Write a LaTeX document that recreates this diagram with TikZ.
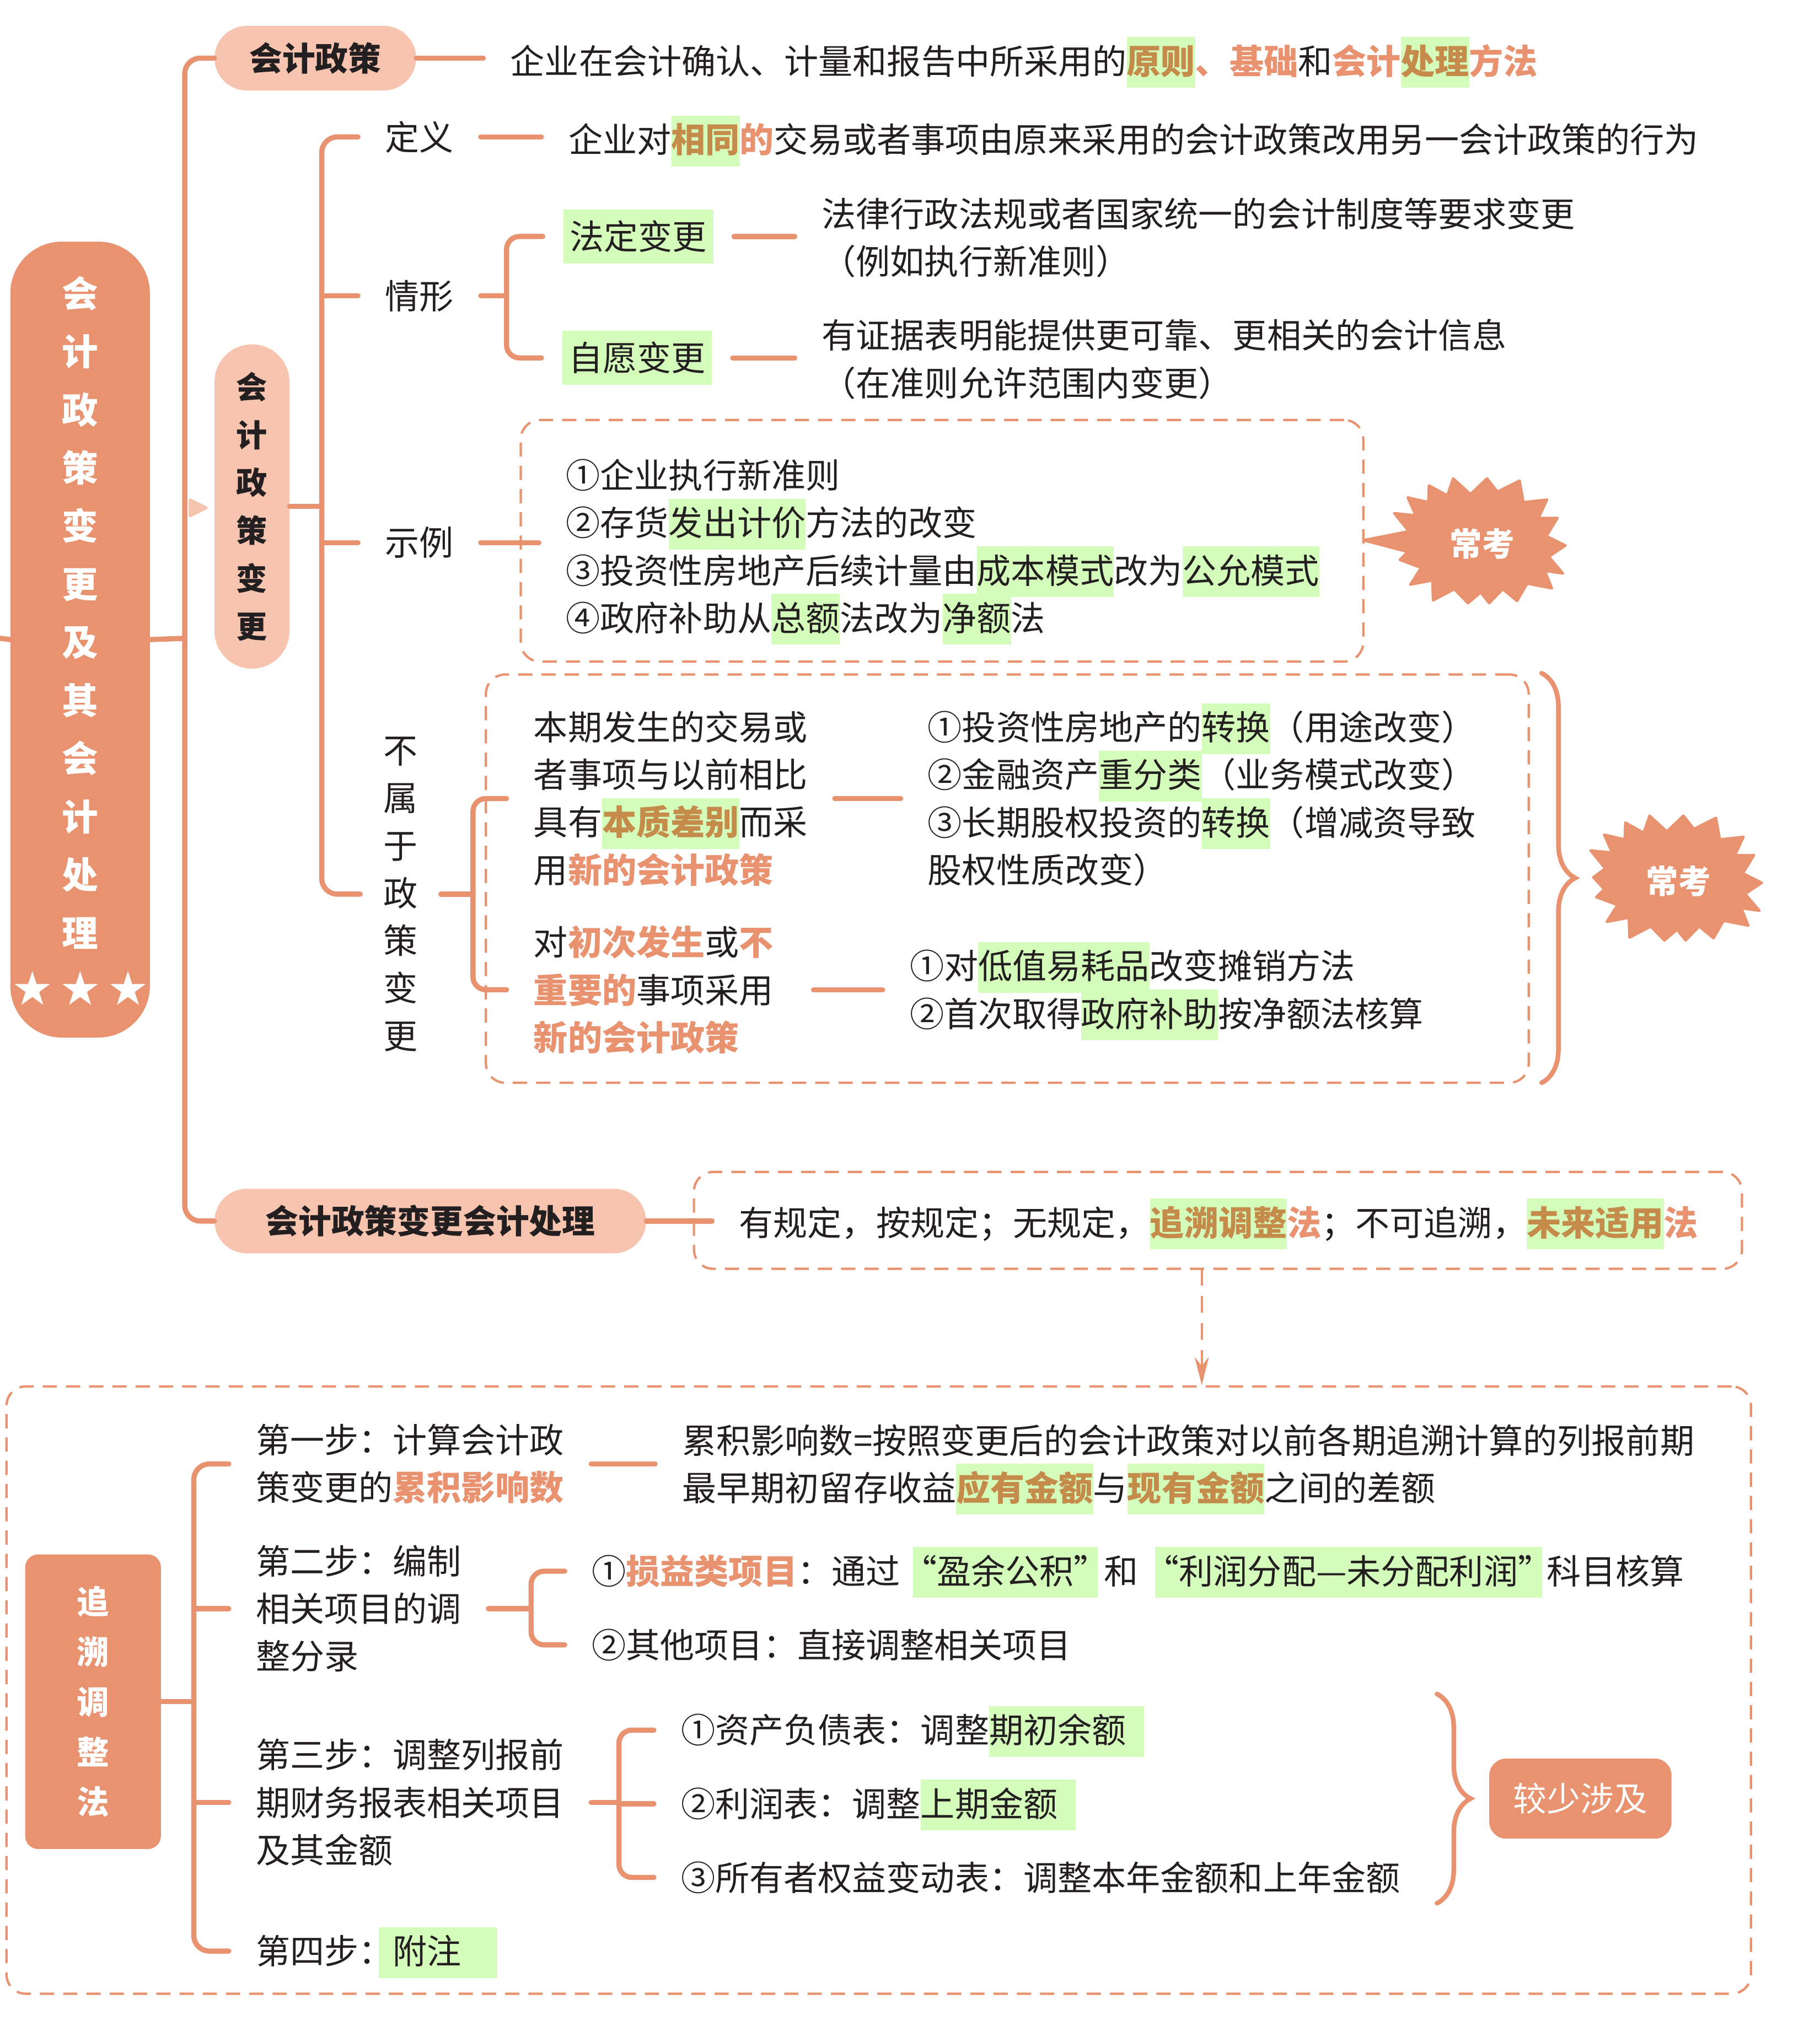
\documentclass[tikz,border=0pt]{standalone}
\usepackage{fontspec}
\setmainfont{Noto Sans CJK SC}
\usepackage{tikz}
\usetikzlibrary{arrows.meta,positioning,shapes.geometric,decorations.pathreplacing}
\definecolor{MapOrange}{HTML}{E9926F}
\definecolor{PaleOrange}{HTML}{F6C4AF}
\definecolor{MarkGreen}{HTML}{D4FCBB}
\definecolor{KeyBrown}{HTML}{C58B4A}
\definecolor{InkBlack}{HTML}{231F20}
\setlength{\fboxsep}{0pt}
\newcommand{\bodyfont}{\fontsize{26.5pt}{36.8pt}\selectfont}
\newcommand{\hilite}[1]{\smash{\colorbox{MarkGreen}{\rule[-0.4em]{0pt}{1.48em}#1}}}
\newcommand{\keyterm}[1]{\hilite{\textcolor{KeyBrown}{\bfseries #1}}}
\newcommand{\hotterm}[1]{\textcolor{MapOrange}{\bfseries #1}}
\newcommand{\hotburst}[2]{%
  \filldraw[MapOrange, line width=2pt, line join=round, shift={#1}]
    #2 -- (-56.8,-9.8) -- (-68.1,-23.8) -- (-51.5,-22.1) -- (-57.6,-36.0) -- (-41.7,-32.3)
    -- (-41.2,-45.3) -- (-27.0,-37.5) -- (-22.5,-50.7) -- (-9.1,-38.5) -- (3.7,-50.7)
    -- (11.8,-40.4) -- (28.9,-49.0) -- (31.9,-32.3) -- (50.2,-34.3) -- (43.6,-20.1)
    -- (58.3,-20.1) -- (49.7,-6.1) -- (64.4,1.2) -- (51.5,9.8) -- (62.5,22.8)
    -- (48.5,20.8) -- (53.9,34.3) -- (34.8,30.6) -- (27.0,44.1) -- (15.9,35.0)
    -- (5.4,45.8) -- (-1.2,37.5) -- (-11.0,45.8) -- (-21.6,35.0) -- (-38.0,43.6)
    -- (-38.5,28.2) -- (-55.6,31.4) -- (-47.3,18.4) -- (-63.7,12.3) -- (-57.6,6.1) -- cycle;}

\begin{document}
\begin{tikzpicture}[x=1pt, y=-1pt,
  branch/.style={draw=MapOrange, line width=4pt, line cap=round},
  dashbox/.style={draw=MapOrange, line width=1.8pt, dash pattern=on 11pt off 7pt, rounded corners=15pt, inner sep=0pt},
  pill/.style={fill=PaleOrange, rounded corners=25pt, inner sep=0pt, text=InkBlack, font=\bfseries\fontsize{25.5pt}{37pt}\selectfont},
  body/.style={inner sep=0pt, outer xsep=21pt, anchor=west, align=left, text=InkBlack, font=\bodyfont},
  vlabel/.style={inner sep=0pt, outer xsep=18pt, align=center, text=InkBlack, font=\bodyfont},
  vtitle/.style={inner sep=0pt, align=center, text=white},
  greenlbl/.style={fill=MarkGreen, inner sep=0pt, minimum width=116pt, minimum height=42pt, outer xsep=16pt, text=InkBlack, font=\bodyfont},
  bursttext/.style={text=white, font=\bfseries\fontsize{25pt}{30pt}\selectfont},
  bracebar/.style={draw=MapOrange, line width=3.6pt, line cap=round, decorate, decoration={brace, amplitude=26pt}}]
\useasboundingbox (0,0) rectangle (1408,1568);

% left title block
\node[fill=MapOrange, rounded corners=40pt, minimum width=108pt, minimum height=616pt, inner sep=0pt] (root) at (62,495) {};
\node[vtitle, font=\bfseries\fontsize{28pt}{45pt}\selectfont] (rootTitle) at (62,474) {会\\计\\政\\策\\变\\更\\及\\其\\会\\计\\处\\理};
\foreach \sx in {25,62,99}
  \node[star, star points=5, star point ratio=2.618, fill=white, minimum size=29pt, inner sep=0pt] (star\sx) at (\sx,766) {};

% first level
\coordinate (edgeL) at (0,494);
\coordinate (spineA) at (143,494);
\node[pill, minimum width=156pt, minimum height=50pt] (policy) at (244,45) {会计政策};
\node[pill, minimum width=58pt, minimum height=251pt, rounded corners=29pt, font=\bfseries\fontsize{24pt}{37pt}\selectfont, align=center] (changePill) at (195,392) {会\\计\\政\\策\\变\\更};
\node[pill, minimum width=334pt, minimum height=50pt] (handling) at (333,945) {会计政策变更会计处理};
\draw[branch, rounded corners=12pt] (policy.west) -| (spineA) |- (handling.west);
\draw[branch] (root.east) -- (spineA);
\draw[branch] (edgeL) -- (root.west);
\fill[PaleOrange, rounded corners=2pt] (146,385) -- (162,393) -- (146,401) -- cycle;

\node[body] (policyDef) at (374,47) {企业在会计确认、计量和报告中所采用的\keyterm{原则}\hotterm{、基础}和\hotterm{会计}\keyterm{处理}\hotterm{方法}};
\draw[branch] (policy.east) -- (policy.east -| policyDef.west);

% second level: policy change
\coordinate (spineB) at (249,400);
\node[body] (defLbl) at (277,106) {定义};
\node[body] (situLbl) at (277,229) {情形};
\node[body] (exLbl) at (277,420) {示例};
\node[vlabel] (notLbl) at (310,692) {不\\属\\于\\政\\策\\变\\更};
\draw[branch, rounded corners=12pt] (defLbl.west) -| (spineB) |- (notLbl.west);
\draw[branch] (situLbl.west) -- (situLbl.west -| spineB);
\draw[branch] (exLbl.west) -- (exLbl.west -| spineB);
\draw[branch] (changePill.east) -- (changePill.east -| spineB);

\node[body] (defText) at (419,108) {企业对\keyterm{相同}\hotterm{的}交易或者事项由原来采用的会计政策改用另一会计政策的行为};
\draw[branch] (defLbl.east) -- (defLbl.east -| defText.west);

% situations
\coordinate (situSpine) at (392,229);
\node[greenlbl] (legal) at (494,183) {法定变更};
\node[greenlbl] (volun) at (493,277) {自愿变更};
\draw[branch] (situLbl.east) -- (situSpine);
\draw[branch, rounded corners=10pt] (legal.west) -| (situSpine) |- (volun.west);
\node[body] (legalText) at (615,184) {法律行政法规或者国家统一的会计制度等要求变更\\（例如执行新准则）};
\node[body] (volunText) at (615,278) {有证据表明能提供更可靠、更相关的会计信息\\（在准则允许范围内变更）};
\draw[branch] (legal.east) -- (legal.east -| legalText.west);
\draw[branch] (volun.east) -- (volun.east -| volunText.west);

% examples
\node[dashbox, minimum width=652pt, minimum height=187pt] (exBox) at (729,418.5) {};
\node[body] (exText) at (417,423) {①企业执行新准则\\②存货\hilite{发出计价}方法的改变\\③投资性房地产后续计量由\hilite{成本模式}改为\hilite{公允模式}\\④政府补助从\hilite{总额}法改为\hilite{净额}法};
\draw[branch] (exLbl.east) -- (exLbl.east -| exText.west);
\hotburst{(1147,421)}{(-91.9,-2.9)}
\node[bursttext] (hotA) at (1147,421) {常考};

% not a policy change
\node[dashbox, minimum width=807pt, minimum height=316pt] (notBox) at (779.5,680) {};
\coordinate (notSpine) at (366,692);
\node[body] (essText) at (392,618) {本期发生的交易或\\者事项与以前相比\\具有\keyterm{本质差别}而采\\用\hotterm{新的会计政策}};
\node[body] (minorText) at (392,766) {对\hotterm{初次发生}或\hotterm{不}\\\hotterm{重要的}事项采用\\\hotterm{新的会计政策}};
\draw[branch] (notLbl.east) -- (notLbl.east -| notSpine);
\draw[branch, rounded corners=10pt] (essText.west) -| (notSpine) |- (minorText.west);
\node[body] (essItems) at (697,618) {①投资性房地产的\hilite{转换}（用途改变）\\②金融资产\hilite{重分类}（业务模式改变）\\③长期股权投资的\hilite{转换}（增减资导致\\股权性质改变）};
\node[body] (minorItems) at (683,766) {①对\hilite{低值易耗品}改变摊销方法\\②首次取得\hilite{政府补助}按净额法核算};
\draw[branch] (essText.east) -- (essText.east -| essItems.west);
\draw[branch, shorten <=10pt] (minorText.east) -- (minorText.east -| minorItems.west);
\coordinate (braceTopA) at (1193,521);
\coordinate (braceBotA) at (1193,838);
\draw[bracebar] (braceTopA) -- (braceBotA);
\hotburst{(1299,682)}{(-66,-3)}
\node[bursttext] (hotB) at (1299,682) {常考};

% handling rule
\node[dashbox, minimum width=811pt, minimum height=75pt] (ruleBox) at (942.5,944.5) {};
\node[body] (ruleText) at (551,947) {有规定，按规定；无规定，\keyterm{追溯调整}\hotterm{法}；不可追溯，\keyterm{未来适用}\hotterm{法}};
\draw[branch] (handling.east) -- (handling.east -| ruleText.west);

% retrospective method
\node[dashbox, minimum width=1350pt, minimum height=470pt] (retroBox) at (680,1308) {};
\coordinate (arrowTop) at (930,982);
\draw[MapOrange, line width=1.6pt, dash pattern=on 13pt off 8pt, -{Stealth[length=22pt, width=11pt]}] (arrowTop) -- (arrowTop |- retroBox.north);

\node[fill=MapOrange, rounded corners=10pt, minimum width=105pt, minimum height=228pt, inner sep=0pt, align=center, text=white, font=\bfseries\fontsize{25pt}{38.75pt}\selectfont] (method) at (72,1317) {追\\溯\\调\\整\\法};
\coordinate (spineC) at (150,1320);
\node[body] (stepOne) at (177,1133) {第一步：计算会计政\\策变更的\hotterm{累积影响数}};
\node[body] (stepTwo) at (177,1245) {第二步：编制\\相关项目的调\\整分录};
\node[body] (stepThree) at (177,1395) {第三步：调整列报前\\期财务报表相关项目\\及其金额};
\node[body] (stepFour) at (177,1510) {第四步：\kern-11pt\hilite{\kern11pt 附注\kern28pt}};
\draw[branch, rounded corners=12pt] (stepOne.west) -| (spineC) |- (stepFour.west);
\draw[branch] (method.east) -- (method.east -| spineC);
\draw[branch] (stepTwo.west) -- (stepTwo.west -| spineC);
\draw[branch] (stepThree.west) -- (stepThree.west -| spineC);

\node[body] (cumText) at (507,1133) {累积影响数=按照变更后的会计政策对以前各期追溯计算的列报前期\\最早期初留存收益\keyterm{应有金额}与\keyterm{现有金额}之间的差额};
\draw[branch] (stepOne.east) -- (stepOne.east -| cumText.west);

\coordinate (spineD) at (411,1245);
\node[body] (acctItem) at (437,1216) {①\hotterm{损益类项目}：通过\kern10pt\hilite{\kern-8pt“盈余公积”\kern-8pt}\kern5pt和\kern13pt\hilite{\kern-8pt“利润分配—未分配利润”\kern-8pt}\kern4pt科目核算};
\node[body] (otherItem) at (437,1273) {②其他项目：直接调整相关项目};
\draw[branch] (stepTwo.east) -- (stepTwo.east -| spineD);
\draw[branch, rounded corners=10pt] (acctItem.west) -| (spineD) |- (otherItem.west);

\coordinate (spineE) at (479,1395);
\node[body] (bsItem) at (506,1339) {①资产负债表：调整\hilite{期初余额\kern14pt}};
\node[body] (isItem) at (506,1396) {②利润表：调整\hilite{上期金额\kern14pt}};
\node[body] (eqItem) at (506,1453) {③所有者权益变动表：调整本年金额和上年金额};
\draw[branch] (stepThree.east) -- (stepThree.east -| spineE);
\draw[branch, rounded corners=10pt] (bsItem.west) -| (spineE) |- (eqItem.west);
\draw[branch] (isItem.west) -- (isItem.west -| spineE);

\coordinate (braceTopB) at (1112,1311);
\coordinate (braceBotB) at (1112,1473);
\draw[bracebar] (braceTopB) -- (braceBotB);
\node[fill=MapOrange, rounded corners=13pt, minimum width=141pt, minimum height=62pt, inner sep=0pt, text=white, font=\fontsize{26pt}{30pt}\selectfont] (fewUse) at (1223,1392) {较少涉及};
\end{tikzpicture}
\end{document}
